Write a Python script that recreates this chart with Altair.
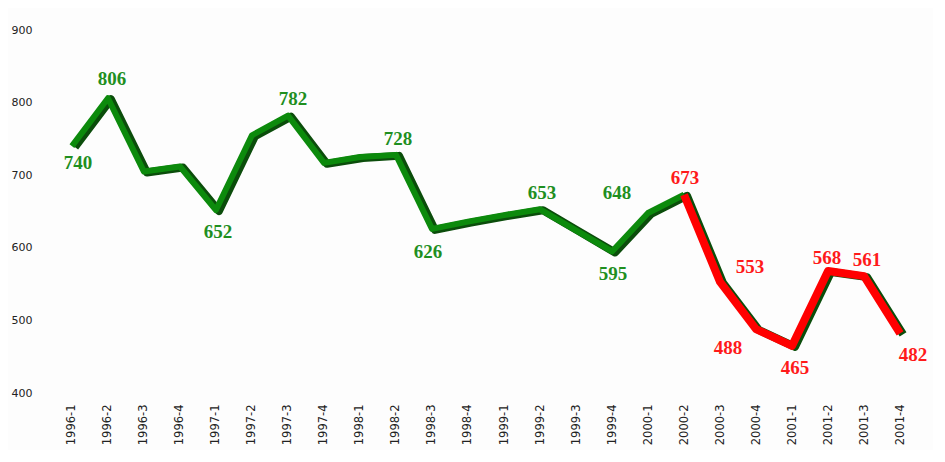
import altair as alt
import pandas as pd

quarters = ["1996-1", "1996-2", "1996-3", "1996-4",
            "1997-1", "1997-2", "1997-3", "1997-4",
            "1998-1", "1998-2", "1998-3", "1998-4",
            "1999-1", "1999-2", "1999-3", "1999-4",
            "2000-1", "2000-2", "2000-3", "2000-4",
            "2001-1", "2001-2", "2001-3", "2001-4"]
values = [740, 806, 705, 712, 652, 755, 782, 717, 725, 728, 626, 636,
          645, 653, 624, 595, 648, 673, 553, 488, 465, 568, 561, 482]
# indices of the points that carry a value label
labelled = [0, 1, 4, 6, 9, 10, 13, 15, 16, 17, 18, 19, 20, 21, 22, 23]
red_start = 17

df = pd.DataFrame({"q": quarters, "v": values, "i": list(range(len(values)))})
df["label"] = [str(v) if i in labelled else "" for i, v in enumerate(values)]

x = alt.X("q:N", sort=quarters, title=None,
          scale=alt.Scale(type="point", padding=0.72),
          axis=alt.Axis(labelAngle=-90, ticks=False, domain=False,
                        labelFont="DejaVu Sans", labelFontSize=11.5,
                        labelColor="#222", labelPadding=11))
y = alt.Y("v:Q", title=None,
          scale=alt.Scale(domain=[400, 900], nice=False, zero=False),
          axis=alt.Axis(values=[400, 500, 600, 700, 800, 900], ticks=False,
                        domain=False, grid=False, labelFont="DejaVu Sans",
                        labelFontSize=11, labelColor="#222", labelPadding=14))

base = alt.Chart(df)

shadow = base.mark_line(color="#0b4d0b", strokeWidth=8, strokeJoin="round").encode(
    x=x, y=y, xOffset=alt.value(3), yOffset=alt.value(1))
green = base.transform_filter(alt.datum.i <= red_start).mark_line(
    color="#0c8a0c", strokeWidth=6, strokeJoin="round").encode(x=x, y=y)
red = base.transform_filter(alt.datum.i >= red_start).mark_line(
    color="#ff0000", strokeWidth=8, strokeJoin="round").encode(x=x, y=y)

# label placement (dx, dy) per labelled point
place = {0: (6, 17), 1: (4, -19), 4: (2, 22), 6: (5, -17), 9: (2, -16),
         10: (-4, 23), 13: (2, -16), 15: (1, 23), 16: (-31, -20),
         17: (1, -17), 18: (30, -15), 19: (-28, 19), 20: (3, 22),
         21: (-1, -13), 22: (3, -16), 23: (13, 22)}
texts = []
for i, (dx, dy) in place.items():
    col = "#1f8f1f" if i < red_start else "#ff1a1a"
    texts.append(
        base.transform_filter(alt.datum.i == i).mark_text(
            font="Liberation Serif", fontWeight="bold", fontSize=19,
            color=col, dx=dx, dy=dy, baseline="middle", align="center"
        ).encode(x=x, y=y, text="label:N")
    )

chart = alt.layer(shadow, green, red, *texts).properties(
    width=880, height=363,
    padding={"left": 3, "top": 16, "right": 5, "bottom": 5},
    background="#fdfdfd",
).configure_view(stroke=None)

chart.save("out.html", embed_options={"renderer": "svg", "actions": False})
